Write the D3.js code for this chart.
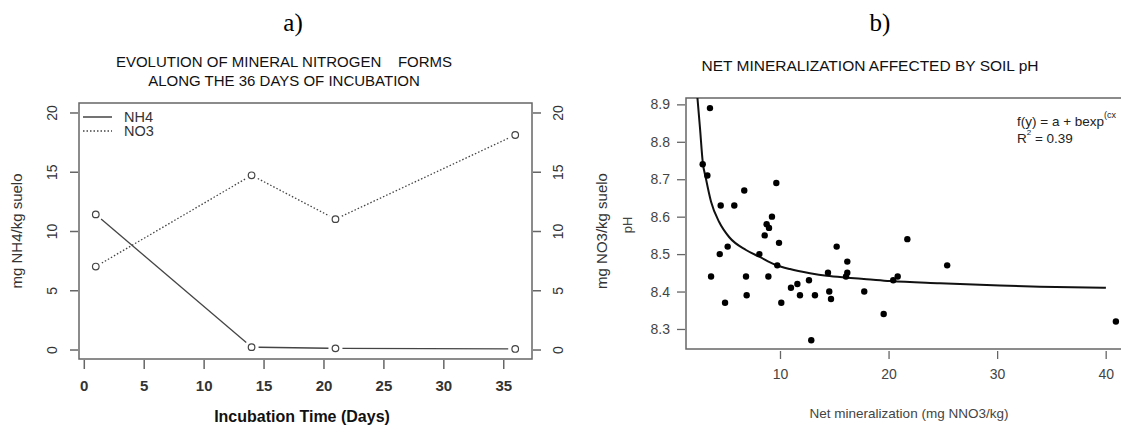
<!DOCTYPE html>
<html>
<head>
<meta charset="utf-8">
<script src="https://cdn.jsdelivr.net/npm/d3@7"></script>
<style>
  body { margin: 0; background: #fff; }
  svg text { font-family: "Liberation Sans", Arial, sans-serif; }
</style>
</head>
<body>
<svg id="chart" width="1121" height="426"></svg>
<script>
// a) mineral nitrogen along incubation
const days = [1, 14, 21, 36];
const nh4 = [11.4, 0.2, 0.1, 0.05];
const no3 = [7.0, 14.7, 11.0, 18.1];
const dayTicks = [0, 5, 10, 15, 20, 25, 30, 35];
const nTicks = [0, 5, 10, 15, 20];

// b) net mineralization vs soil pH
const netMin = [3.55, 2.88, 3.31, 4.54, 5.79, 6.71, 9.66, 9.26, 8.77, 8.99, 8.59, 9.91, 15.22, 4.45,
  5.18, 8.1, 9.75, 3.65, 4.94, 6.87, 6.93, 8.93, 10.12, 11.01, 11.6, 11.84, 12.67, 12.88, 13.22,
  14.42, 14.54, 14.7, 16.2, 16.2, 16.08, 17.76, 19.55, 20.43, 20.84, 21.73, 25.4, 40.94];
const soilPH = [8.89, 8.74, 8.71, 8.63, 8.63, 8.67, 8.69, 8.60, 8.58, 8.57, 8.55, 8.53, 8.52, 8.50,
  8.52, 8.50, 8.47, 8.44, 8.37, 8.44, 8.39, 8.44, 8.37, 8.41, 8.42, 8.39, 8.43, 8.27, 8.39,
  8.45, 8.40, 8.38, 8.48, 8.45, 8.44, 8.40, 8.34, 8.43, 8.44, 8.54, 8.47, 8.32];
// fitted curve
const fitX = [2.3, 2.63, 2.88, 3.19, 3.65, 4.41, 5.33, 6.87, 8.09, 9.63, 10.92, 12.76, 14.30, 16.14,
  17.98, 20.13, 24.73, 30.26, 33.94, 40.02];
const fitPH = [8.95, 8.837, 8.747, 8.700, 8.640, 8.585, 8.545, 8.511, 8.493, 8.471, 8.460, 8.449,
  8.442, 8.437, 8.433, 8.428, 8.422, 8.416, 8.413, 8.410];
const phTicks = [8.3, 8.4, 8.5, 8.6, 8.7, 8.8, 8.9];
const minTicks = [10, 20, 30, 40];

const svg = d3.select('#chart');
const ink = '#333';
const boxCol = '#666';

// ---------- panel a ----------
const a = { left: 79, right: 532, top: 103, bottom: 359 };
const xA = d3.scaleLinear().domain([-0.4, 37.4]).range([a.left, a.right]);
const yA = d3.scaleLinear().domain([-0.8, 20.8]).range([a.bottom, a.top]);

svg.append('text').attr('x', 293).attr('y', 31)
  .attr('text-anchor', 'middle')
  .style('font-family', '"Liberation Serif", "Times New Roman", serif')
  .style('font-size', '25px').text('a)');

svg.append('text').attr('x', 284).attr('y', 67).attr('text-anchor', 'middle')
  .style('font-size', '15px').attr('fill', '#111')
  .attr('xml:space', 'preserve')
  .text('EVOLUTION OF MINERAL NITROGEN    FORMS');
svg.append('text').attr('x', 284).attr('y', 86).attr('text-anchor', 'middle')
  .style('font-size', '15px').attr('fill', '#111')
  .text('ALONG THE 36 DAYS OF INCUBATION');

svg.append('rect')
  .attr('x', a.left).attr('y', a.top)
  .attr('width', a.right - a.left).attr('height', a.bottom - a.top)
  .attr('fill', 'none').attr('stroke', boxCol).attr('stroke-width', 1.5);

// bottom axis
const gxA = svg.append('g').attr('transform', `translate(0,${a.bottom + 1})`)
  .call(d3.axisBottom(xA).tickValues(dayTicks).tickSize(9).tickPadding(11));
gxA.select('.domain').remove();
gxA.selectAll('line').attr('stroke', boxCol).attr('stroke-width', 1.5);
gxA.selectAll('text').style('font-size', '15px').style('font-weight', 'bold')
  .attr('fill', ink).style('font-family', '"Liberation Sans", Arial, sans-serif');

// left and right axes with rotated labels
function sideAxis(axisFn, xPos, labelX) {
  const g = svg.append('g').attr('transform', `translate(${xPos},0)`)
    .call(axisFn(yA).tickValues(nTicks).tickSize(8));
  g.select('.domain').remove();
  g.selectAll('line').attr('stroke', boxCol).attr('stroke-width', 1.5);
  g.selectAll('text').remove();
  g.selectAll('.tick').append('text')
    .attr('transform', `translate(${labelX},0) rotate(-90)`)
    .attr('text-anchor', 'middle').attr('dy', '0.35em')
    .style('font-size', '14px').attr('fill', ink)
    .style('font-family', '"Liberation Sans", Arial, sans-serif')
    .text(d => d);
}
sideAxis(d3.axisLeft, a.left - 1, -26);
sideAxis(d3.axisRight, a.right + 1, 25);

svg.append('text').attr('transform', `translate(22,${(a.top + a.bottom) / 2}) rotate(-90)`)
  .attr('text-anchor', 'middle').style('font-size', '15px').attr('fill', ink)
  .text('mg NH4/kg suelo');
svg.append('text').attr('transform', `translate(607,${(a.top + a.bottom) / 2}) rotate(-90)`)
  .attr('text-anchor', 'middle').style('font-size', '15px').attr('fill', ink)
  .text('mg NO3/kg suelo');
svg.append('text').attr('x', 302).attr('y', 422).attr('text-anchor', 'middle')
  .style('font-size', '16px').style('font-weight', 'bold').attr('fill', '#111')
  .text('Incubation Time (Days)');

// lines with gaps around the points (type = "b")
function drawSeries(vals, dash) {
  const pts = days.map((d, i) => [xA(d), yA(vals[i])]);
  const gap = 7;
  for (let i = 0; i < pts.length - 1; i++) {
    const [x1, y1] = pts[i], [x2, y2] = pts[i + 1];
    const len = Math.hypot(x2 - x1, y2 - y1);
    if (len <= 2 * gap) continue;
    const ux = (x2 - x1) / len, uy = (y2 - y1) / len;
    svg.append('line')
      .attr('x1', x1 + ux * gap).attr('y1', y1 + uy * gap)
      .attr('x2', x2 - ux * gap).attr('y2', y2 - uy * gap)
      .attr('stroke', '#444').attr('stroke-width', 1.3)
      .attr('stroke-dasharray', dash);
  }
  svg.append('g').selectAll('circle').data(pts).join('circle')
    .attr('cx', d => d[0]).attr('cy', d => d[1]).attr('r', 3.3)
    .attr('fill', 'none').attr('stroke', '#444').attr('stroke-width', 1.2);
}
drawSeries(nh4, null);
drawSeries(no3, '1.5,2');

// legend
const leg = [{ name: 'NH4', dash: null, y: 117 }, { name: 'NO3', dash: '1.5,2', y: 131 }];
leg.forEach(l => {
  svg.append('line').attr('x1', 83).attr('x2', 112).attr('y1', l.y).attr('y2', l.y)
    .attr('stroke', '#444').attr('stroke-width', 1.5).attr('stroke-dasharray', l.dash);
  svg.append('text').attr('x', 124).attr('y', l.y + 5).style('font-size', '14.5px')
    .attr('fill', ink).text(l.name);
});

// ---------- panel b ----------
const b = { left: 686, right: 1130, top: 98, bottom: 349 };
const xB = d3.scaleLinear().domain([1.342, 42.24]).range([b.left, b.right]);
const yB = d3.scaleLinear().domain([8.2465, 8.917]).range([b.bottom, b.top]);

svg.append('text').attr('x', 880).attr('y', 31)
  .attr('text-anchor', 'middle')
  .style('font-family', '"Liberation Serif", "Times New Roman", serif')
  .style('font-size', '25px').text('b)');
svg.append('text').attr('x', 870).attr('y', 71).attr('text-anchor', 'middle')
  .style('font-size', '15.5px').attr('fill', '#111')
  .text('NET MINERALIZATION AFFECTED BY SOIL pH');

svg.append('rect')
  .attr('x', b.left).attr('y', b.top)
  .attr('width', b.right - b.left).attr('height', b.bottom - b.top)
  .attr('fill', 'none').attr('stroke', boxCol).attr('stroke-width', 1.5);

const gxB = svg.append('g').attr('transform', `translate(0,${b.bottom + 2})`)
  .call(d3.axisBottom(xB).tickValues(minTicks).tickSize(8).tickPadding(10));
gxB.select('.domain').remove();
gxB.selectAll('line').attr('stroke', boxCol).attr('stroke-width', 1.3);
gxB.selectAll('text').style('font-size', '14px').attr('fill', '#444')
  .style('font-family', '"Liberation Sans", Arial, sans-serif');

const gyB = svg.append('g').attr('transform', `translate(${b.left - 1},0)`)
  .call(d3.axisLeft(yB).tickValues(phTicks).tickSize(8).tickPadding(7).tickFormat(d3.format('.1f')));
gyB.select('.domain').remove();
gyB.selectAll('line').attr('stroke', boxCol).attr('stroke-width', 1.3);
gyB.selectAll('text').style('font-size', '14px').attr('fill', '#444')
  .style('font-family', '"Liberation Sans", Arial, sans-serif');

svg.append('text').attr('transform', `translate(632,225) rotate(-90)`)
  .attr('text-anchor', 'middle').style('font-size', '13px').attr('fill', '#444')
  .text('pH');
svg.append('text').attr('x', 909).attr('y', 418).attr('text-anchor', 'middle')
  .style('font-size', '13.5px').attr('fill', '#444')
  .text('Net mineralization (mg NNO3/kg)');

// fitted curve
const fitLine = d3.line().x(d => xB(d[0])).y(d => yB(d[1])).curve(d3.curveMonotoneX);
svg.append('clipPath').attr('id', 'clipB').append('rect')
  .attr('x', b.left).attr('y', b.top).attr('width', b.right - b.left).attr('height', b.bottom - b.top);
svg.append('path').datum(fitX.map((x, i) => [x, fitPH[i]]))
  .attr('clip-path', 'url(#clipB)')
  .attr('d', fitLine).attr('fill', 'none').attr('stroke', '#111').attr('stroke-width', 2);

svg.append('g').selectAll('circle').data(netMin.map((x, i) => [x, soilPH[i]])).join('circle')
  .attr('cx', d => xB(d[0])).attr('cy', d => yB(d[1])).attr('r', 3.2).attr('fill', '#000');

// formula annotation
const f = svg.append('text').attr('x', 1017).attr('y', 126).style('font-size', '13.5px').attr('fill', '#222');
f.append('tspan').text('f(y) = a + bexp');
f.append('tspan').attr('dy', -8).style('font-size', '9px').text('(cx');
const r2 = svg.append('text').attr('x', 1017).attr('y', 143).style('font-size', '13.5px').attr('fill', '#222');
r2.append('tspan').text('R');
r2.append('tspan').attr('dy', -8).style('font-size', '8px').text('2');
r2.append('tspan').attr('dy', 8).text(' = 0.39');
</script>
</body>
</html>
